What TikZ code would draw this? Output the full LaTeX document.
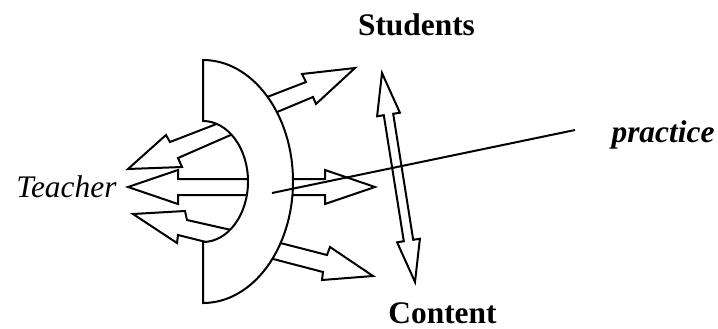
\documentclass[tikz,border=0pt]{standalone}
\usepackage{fontspec}
\setmainfont{Liberation Serif}
\usetikzlibrary{positioning, calc}

\begin{document}
\begin{tikzpicture}[x=0.5pt, y=-0.5pt, line width=1pt,
    block/.style={draw, fill=white, line join=miter},
    lbl/.style={font=\fontsize{15.7}{18}\selectfont, inner sep=0pt, anchor=base}]

    \useasboundingbox (0,0) rectangle (718,328);

    % Parameters of the half moon (pixel units, y downwards)
    \def\xWall{203}     % vertical edge on the left
    \def\yMid{181.5}    % height of the centre
    \def\rxOut{90}      % outer arc, x radius
    \def\ryOut{121.5}   % outer arc, y radius
    \def\rxIn{45}       % inner arc, x radius
    \def\ryIn{60.5}     % inner arc, y radius

    % --- Arrows to the left (towards the teacher) ---
    \draw[block] (232,118) -- (170,142) -- (166,135) -- (128,169) -- (182,167) -- (178,158) -- (249,127) -- cycle;
    \draw[block] (260,179) -- (178,179) -- (178,170) -- (128,187) -- (178,204) -- (178,195) -- (260,195) -- cycle;
    \draw[block] (249,234) -- (187,220) -- (185,211) -- (133,214) -- (177,243) -- (178,235) -- (226,247) -- cycle;

    % --- Arrows to the right ---
    \draw[block] (249,104) -- (306,82) -- (302,74) -- (355,68) -- (316,104) -- (313,97) -- (258,120) -- cycle;
    \draw[block] (260,179) -- (325,179) -- (325,170) -- (375,187) -- (325,204) -- (325,195) -- (260,195) -- cycle;
    \draw[block] (261,238) -- (327,255) -- (330,247) -- (373,276) -- (322,280) -- (323,272) -- (254,254) -- cycle;

    % --- Half moon ---
    \draw[block] (\xWall,\yMid-\ryOut)
        arc[start angle=-90, end angle=90, x radius=\rxOut, y radius=\ryOut]
        -- (\xWall,\yMid+\ryIn)
        arc[start angle=90, end angle=-90, x radius=\rxIn, y radius=\ryIn]
        -- cycle;

    % --- Double arrow Students / Content ---
    \draw[block] (382,73) -- (399.9,112.7) -- (393.2,113.8) -- (413.2,239.8) -- (419.9,238.7)
        -- (415,282) -- (397.1,242.3) -- (403.8,241.2) -- (383.8,115.2) -- (377.1,116.3) -- cycle;

    % --- Labels ---
    \node[lbl] (students) at (416.5,35) {\textbf{Students}};
    \node[lbl] (content) at (442.5,323) {\textbf{Content}};
    \node[lbl] (teacher) at (66.5,197) {\textit{Teacher}};
    \node[lbl] (practice) at (663,142) {\textbf{\textit{practice}}};

    % Pointer line to practice
    \coordinate (pin) at (272,193);
    \coordinate (pinend) at (575,130);
    \draw (pin) -- (pinend);

\end{tikzpicture}
\end{document}
